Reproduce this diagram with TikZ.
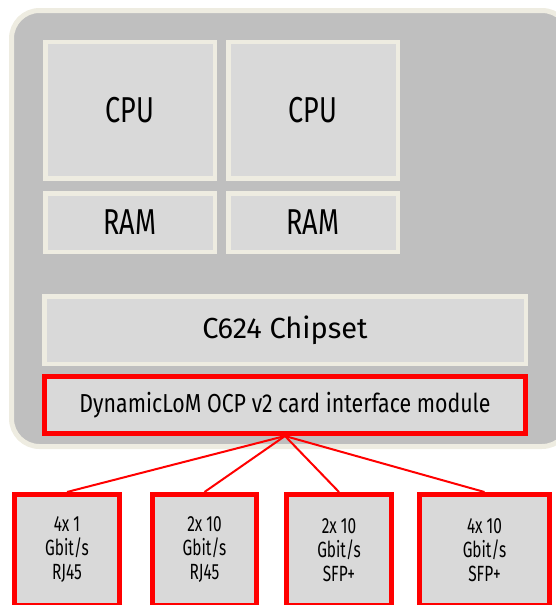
\documentclass[tikz,border=0pt]{standalone}
\usepackage{fontspec}
\setmainfont{Fira Sans}
\newfontfamily\cpufont{Fira Sans}[FakeStretch=0.75]
\newfontfamily\dynfont{Fira Sans}[FakeStretch=0.82]
\newfontfamily\portfont{Fira Sans}[FakeStretch=0.7]
\definecolor{outerfill}{HTML}{BFBFBF}
\definecolor{innerfill}{HTML}{D9D9D9}
\definecolor{cream}{HTML}{EEECE1}
\definecolor{redline}{HTML}{FF0000}
\begin{document}
\begin{tikzpicture}[x=1pt,y=-1pt,
  chip/.style={draw=cream, line width=4.5pt, fill=innerfill, inner sep=0pt, anchor=center},
  big/.style={chip, minimum width=169.5pt, font=\cpufont\fontsize{36}{40}\selectfont},
  redbox/.style={draw=redline, line width=5pt, fill=innerfill, inner sep=0pt, anchor=center},
  port/.style={redbox, minimum height=111pt, align=center, font=\portfont\fontsize{22}{24}\selectfont},
  link/.style={draw=redline, line width=2pt}]
\useasboundingbox (0,0) rectangle (556,605);
\clip (0,0) rectangle (556,605);
\draw[cream, line width=5pt, fill=outerfill, rounded corners=28pt] (11.5,10.5) rectangle (570,446.5);
\node[big, minimum height=136.5pt] (cpu1) at (130,110) {CPU};
\node[big, minimum height=136.5pt] (cpu2) at (313,110) {CPU};
\node[big, minimum height=58.5pt] (ram1) at (130,222.5) {RAM};
\node[big, minimum height=58.5pt] (ram2) at (313,222.5) {RAM};
\node[chip, minimum width=481.5pt, minimum height=67.5pt, font=\fontsize{29}{32}\selectfont] (chipset) at (285,330) {C624 Chipset};
\node[redbox, minimum width=481pt, minimum height=57pt, font=\dynfont\fontsize{26}{30}\selectfont] (dyn) at (285,405) {DynamicLoM OCP v2 card interface module};
\node[port, minimum width=105pt] (p1) at (67,550) {4x 1\\Gbit/s\\RJ45};
\node[port, minimum width=104pt] (p2) at (204.5,550) {2x 10\\Gbit/s\\RJ45};
\node[port, minimum width=105pt] (p3) at (339,550) {2x 10\\Gbit/s\\SFP+};
\node[port, minimum width=130pt] (p4) at (484.5,550) {4x 10\\Gbit/s\\SFP+};
\foreach \p in {p1,p2,p3,p4} \draw[link] (dyn.south) -- (\p.north);
\end{tikzpicture}
\end{document}
